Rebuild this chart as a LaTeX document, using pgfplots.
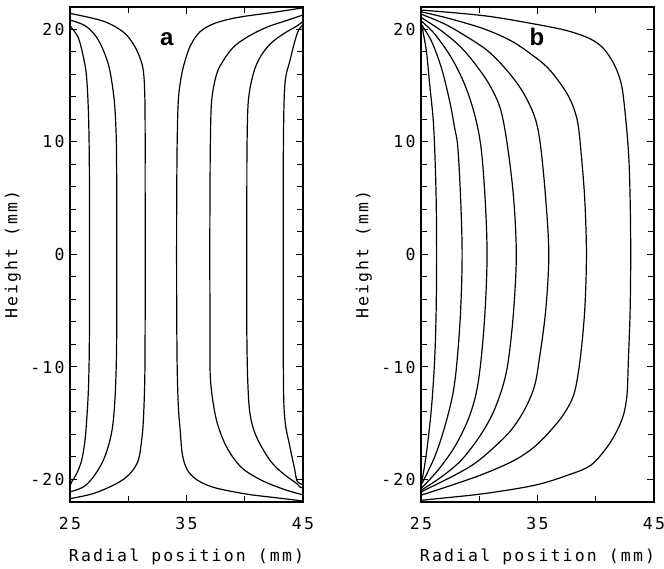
\documentclass[border=0pt]{standalone}
\usepackage{pgfplots}
\pgfplotsset{compat=1.18}
\usepackage{fontspec}
\newfontfamily\plotfont[LetterSpace=13]{DejaVu Sans Mono}
\newfontfamily\labfont{Liberation Sans}
\pgfplotsset{
  panel/.style={
    width=233pt, height=495pt, scale only axis,
    xmin=25, xmax=45, ymin=-22, ymax=22,
    xtick={25,35,45}, xticklabels={25,35,45},
    minor xtick={30,40},
    ytick={-20,-10,0,10,20}, yticklabels={-20,-10,0,10,20},
    minor ytick={-18,-16,-14,-12,-8,-6,-4,-2,2,4,6,8,12,14,16,18},
    tick align=inside,
    major tick length=7pt, minor tick length=6pt,
    every tick/.style={black, line width=1pt},
    axis line style={line width=1.3pt},
    tick label style={font=\plotfont\fontsize{16.5}{19}\selectfont},
    xticklabel style={anchor=base, yshift=-28pt},
    yticklabel style={anchor=east, xshift=-2pt},
    label style={font=\plotfont\fontsize{16.5}{19}\selectfont},
    xlabel={Radial position (mm)},
    ylabel={Height (mm)},
    xlabel style={at={(axis description cs:0.5,-0.121)}, anchor=base},
    ylabel style={at={(axis description cs:-0.245,0.5)}, anchor=center, rotate=0},
    every axis plot post/.append style={black, solid, line width=1.2pt, mark=none, smooth, tension=0.55},
  }
}
\begin{document}
\begin{tikzpicture}
\useasboundingbox (0,0) rectangle (664pt,569pt);
% ---------------- panel a ----------------
\begin{axis}[panel, at={(70pt,67pt)}, anchor=south west]
\addplot coordinates {(25.0,-20.6) (25.15,-20.2) (25.57,-19.48) (26.0,-18.3) (26.29,-16.5) (26.43,-14.74) (26.58,-12) (26.66,-8) (26.68,0) (26.66,8) (26.6,12) (26.5,14.6) (26.37,16.3) (26.1,17.8) (25.7,19.3) (25.1,20.2) (25.0,20.4)};
\addplot coordinates {(25.0,-21.1) (26.14,-20.67) (27.0,-19.78) (27.86,-18.3) (28.43,-16.5) (28.72,-14.74) (28.9,-12) (29.0,-8) (29.02,0) (29.0,8) (28.95,11) (28.8,13.7) (28.43,16.3) (28.0,17.8) (27.29,19.3) (26.29,20.34) (25.0,20.84)};
\addplot coordinates {(25.0,-21.7) (27.0,-21.25) (29.0,-20.36) (30.15,-19.48) (30.86,-18.3) (31.15,-16.5) (31.3,-14.7) (31.42,-11) (31.45,-6) (31.46,0) (31.45,6) (31.45,11) (31.42,14.2) (31.3,16.3) (31.0,17.5) (30.44,18.7) (29.58,19.77) (27.86,20.74) (25.0,21.43)};
\addplot coordinates {(45,-21.95) (44.74,-21.88) (42.5,-21.6) (40.17,-21.3) (37.5,-20.75) (36.0,-20.1) (35.1,-19.2) (34.65,-17.8) (34.45,-15.5) (34.3,-13.5) (34.2,-10) (34.16,-5) (34.15,0) (34.16,5) (34.2,10) (34.3,13.7) (34.55,15.8) (34.87,17.2) (35.35,18.6) (36.16,19.8) (37.3,20.5) (38.73,20.93) (40.17,21.2) (42.45,21.52) (44.74,21.88) (45,21.93)};
\addplot coordinates {(45,-21.35) (44.74,-21.3) (43.3,-20.85) (41.5,-20.1) (39.9,-19.1) (38.9,-17.9) (38.16,-16.5) (37.5,-14.4) (37.05,-11) (37.02,-6) (37.0,0) (37.02,6) (37.05,10) (37.16,13.68) (37.59,16.05) (38.16,17.23) (39.0,18.4) (40.17,19.3) (41.88,20.2) (43.6,20.8) (44.74,21.2) (45,21.3)};
\addplot coordinates {(45,-20.75) (44.74,-20.67) (44.46,-20.36) (43.3,-19.48) (42.17,-18.3) (41.0,-16.2) (40.45,-14.15) (40.25,-11) (40.17,-6) (40.17,0) (40.18,6) (40.2,10) (40.31,13.68) (40.73,16.05) (41.3,17.5) (42.17,18.7) (43.3,19.6) (44.46,20.3) (44.89,20.63) (45,20.7)};
\addplot coordinates {(45,-20.45) (44.74,-20.36) (44.46,-20.07) (44.3,-19.18) (43.88,-17.1) (43.45,-14.74) (43.32,-11) (43.3,0) (43.32,10) (43.45,15.16) (43.88,17.23) (44.31,19.0) (44.6,19.9) (44.89,20.3) (45,20.4)};
\node[font=\labfont\bfseries\fontsize{24}{28}\selectfont, anchor=base] at (axis cs:33.3,18.56) {a};
\end{axis}
% ---------------- panel b ----------------
\begin{axis}[panel, at={(421pt,67pt)}, anchor=south west]
\addplot coordinates {(25.0,-20.3) (25.09,-20.07) (25.46,-17.7) (25.88,-13.85) (26.17,-9.41) (26.3,-5) (26.34,0) (26.3,5) (26.17,9.53) (26.03,12.2) (25.74,15.16) (25.46,18.1) (25.09,20.19) (25.0,20.4)};
\addplot coordinates {(25.0,-20.52) (26.17,-18.0) (27.03,-15.34) (27.74,-12.37) (28.1,-9.41) (28.4,-5) (28.53,0) (28.4,5) (28.16,9.53) (27.88,11.3) (27.45,13.68) (26.74,16.63) (25.88,19.0) (25.0,20.49)};
\addplot coordinates {(25.0,-20.81) (26.45,-19.18) (27.88,-17.11) (29.02,-14.74) (29.73,-12.37) (30.15,-9.41) (30.5,-5) (30.67,0) (30.5,5) (30.15,9.53) (29.59,12.49) (28.73,15.16) (27.59,17.52) (26.17,19.6) (25.0,20.78)};
\addplot coordinates {(25.0,-20.96) (26.74,-19.78) (28.44,-18.3) (30.0,-16.22) (31.15,-14.15) (32.0,-11.78) (32.5,-9.41) (32.95,-5) (33.18,0) (32.95,5) (32.44,9.53) (31.86,12.79) (31.0,14.86) (29.87,16.63) (28.44,18.41) (26.74,19.89) (25.0,21.07)};
\addplot coordinates {(25.0,-21.1) (27.59,-19.78) (29.59,-18.59) (31.3,-17.11) (32.72,-15.63) (33.86,-13.85) (34.72,-11.78) (35.14,-9.41) (35.7,-5) (35.97,0) (35.7,5) (35.28,9.53) (34.86,11.9) (34.15,13.68) (33.29,15.16) (32.15,16.63) (30.73,18.1) (29.02,19.3) (27.03,20.49) (25.0,21.37)};
\addplot coordinates {(25.0,-21.4) (27.59,-20.52) (30.44,-19.48) (33.0,-18.3) (34.72,-17.11) (36.14,-15.63) (37.28,-14.15) (38.14,-12.37) (38.65,-9.41) (39.05,-5) (39.2,0) (39.05,5) (38.7,9.53) (38.42,11.9) (37.85,13.68) (36.99,15.16) (35.85,16.63) (34.43,17.82) (32.72,19.0) (30.44,20.04) (27.59,20.93) (25.0,21.58)};
\addplot coordinates {(25.0,-21.85) (26.45,-21.7) (30.44,-21.25) (34.72,-20.52) (37.56,-19.63) (39.56,-18.74) (40.98,-17.11) (41.84,-15.63) (42.41,-14.15) (42.69,-12.37) (42.8,-9.41) (42.95,-5) (43.0,0) (42.95,5) (42.8,9.3) (42.41,13.68) (42.12,15.45) (41.56,16.93) (40.7,18.27) (39.56,19.15) (37.56,19.89) (34.72,20.49) (30.44,21.22) (25.0,21.73)};
\node[font=\labfont\bfseries\fontsize{24}{28}\selectfont, anchor=base] at (axis cs:34.96,18.56) {b};
\end{axis}
\end{tikzpicture}
\end{document}
